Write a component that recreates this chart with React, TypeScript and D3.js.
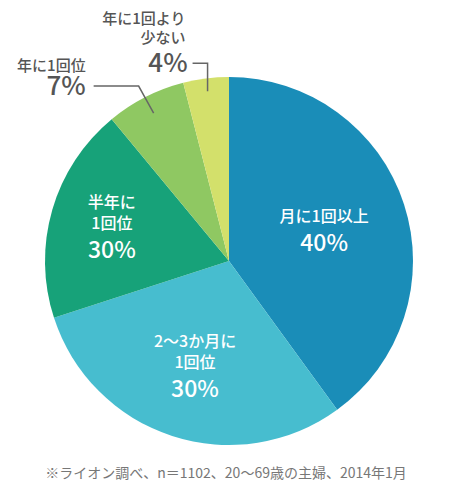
import React from 'react';
import * as d3 from 'd3';

// Survey answers, clockwise from 12 o'clock
const categories = ['月に1回以上', '2〜3か月に1回位', '半年に1回位', '年に1回位', '年に1回より少ない'];
const values = [40, 30, 19, 7, 4];
const percentLabels = ['40%', '30%', '30%', '7%', '4%'];
const labelLines = [
  ['月に1回以上'],
  ['2〜3か月に', '1回位'],
  ['半年に', '1回位'],
  ['年に1回位'],
  ['年に1回より', '少ない'],
];
const colors = ['#1a8db8', '#47bdcf', '#17a279', '#8fc862', '#d3e06b'];
const footnote = '※ライオン調べ、n＝1102、20〜69歳の主婦、2014年1月';

const FONT = '"Noto Sans CJK JP", "Noto Sans", sans-serif';

export default function App() {
  const width = 450;
  const height = 496;
  const cx = 229;
  const cy = 261;
  const radius = 184;

  const pie = d3.pie<number>().sort(null).value(d => d);
  const arcs = pie(values);
  const arc = d3.arc<d3.PieArcDatum<number>>().innerRadius(0).outerRadius(radius);

  // point at distance r from the centre, in the middle of a slice
  const anchor = (a: d3.PieArcDatum<number>, r: number) =>
    d3.arc<d3.PieArcDatum<number>>().innerRadius(r).outerRadius(r).centroid(a);

  // inside labels sit at this distance from the centre
  const insideRadius = [100, 110, 122];
  const inside = arcs.slice(0, 3).map((a, i) => {
    const [x, y] = anchor(a, insideRadius[i]);
    return { x, y, i };
  });

  // leader line anchors inside the small slices
  const p7 = anchor(arcs[3], 166);
  const p4 = anchor(arcs[4], 171);
  const line7 = [p7, [p7[0] - 15, p7[1] - 27], [p7[0] - 60, p7[1] - 27]];
  const line4 = [p4, [p4[0], p4[1] - 28], [p4[0] - 15, p4[1] - 28]];

  return (
    <svg width={width} height={height} style={{ position: 'absolute', left: 0, top: 0 }} fontFamily={FONT}>
      <g transform={`translate(${cx},${cy})`}>
        {arcs.map((a, i) => (
          <path key={categories[i]} d={arc(a) || ''} fill={colors[i]} />
        ))}

        {inside.map(({ x, y, i }) => {
          const lines = labelLines[i];
          const lineH = 21;
          const top = y - ((lines.length - 1) * lineH + 29) / 2 + 6;
          return (
            <g key={i} fill="#fff" textAnchor="middle">
              {lines.map((t, k) => (
                <text key={k} x={x} y={top + k * lineH} fontSize={16} fontWeight={500}>{t}</text>
              ))}
              <text x={x} y={top + (lines.length - 1) * lineH + 29} fontSize={23} fontWeight={500}>
                {percentLabels[i]}
              </text>
            </g>
          );
        })}

        <polyline points={line7.map(p => p.join(',')).join(' ')} fill="none" stroke="#666" strokeWidth={1.5} />
        <polyline points={line4.map(p => p.join(',')).join(' ')} fill="none" stroke="#666" strokeWidth={1.5} />

        <g fill="#555" textAnchor="end">
          <text x={p7[0] - 68} y={p7[1] - 42} fontSize={15} fontWeight={500}>{labelLines[3][0]}</text>
          <text x={p7[0] - 68} y={p7[1] - 18} fontSize={26} fontWeight={500}>{percentLabels[3]}</text>

          <text x={p4[0] - 22} y={p4[1] - 67} fontSize={15} fontWeight={500}>{labelLines[4][0]}</text>
          <text x={p4[0] - 22} y={p4[1] - 48} fontSize={15} fontWeight={500}>{labelLines[4][1]}</text>
          <text x={p4[0] - 20} y={p4[1] - 19} fontSize={26} fontWeight={500}>{percentLabels[4]}</text>
        </g>
      </g>

      <text x={226} y={478} textAnchor="middle" fontSize={14} fill="#777">{footnote}</text>
    </svg>
  );
}
